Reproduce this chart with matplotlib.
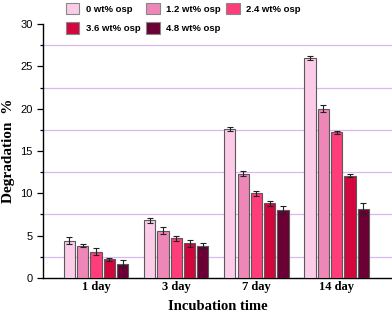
import matplotlib.pyplot as plt
import numpy as np
from matplotlib.patches import Patch

# data
days = ['1 day', '3 day', '7 day', '14 day']
series = ['0 wt% osp', '1.2 wt% osp', '2.4 wt% osp', '3.6 wt% osp', '4.8 wt% osp']
osp0 = [4.4, 6.8, 17.6, 26.0]
osp12 = [3.8, 5.6, 12.3, 20.0]
osp24 = [3.1, 4.7, 10.0, 17.2]
osp36 = [2.2, 4.1, 8.8, 12.1]
osp48 = [1.7, 3.8, 8.0, 8.2]
err0 = [0.4, 0.3, 0.2, 0.2]
err12 = [0.2, 0.4, 0.3, 0.4]
err24 = [0.4, 0.3, 0.3, 0.2]
err36 = [0.2, 0.4, 0.3, 0.2]
err48 = [0.4, 0.3, 0.5, 0.6]

colors = ['#fbcbe8', '#ee86b8', '#ff3d7b', '#d2073e', '#6a0033']
values = [osp0, osp12, osp24, osp36, osp48]
errors = [err0, err12, err24, err36, err48]

plt.rcParams['font.family'] = 'Liberation Sans'

fig = plt.figure(figsize=(3.92, 3.13), dpi=100)
ax = fig.add_axes([0.110, 0.112, 0.89, 0.811])

x = np.arange(len(days))
step = 0.166
width = 0.14
for i in range(len(series)):
    ax.bar(x + (i - 2) * step, values[i], width, color=colors[i],
           edgecolor='#5a5a5a', linewidth=0.8, zorder=3,
           yerr=errors[i], capsize=2.5,
           error_kw=dict(ecolor='#222222', elinewidth=0.8, capthick=0.8, zorder=4))

# grid lines between the major ticks
for g in [2.5, 7.5, 12.5, 17.5, 22.5, 27.5]:
    ax.axhline(g, color='#dcb8f0', linewidth=0.9, zorder=1)

ax.set_xlim(-0.66, 3.69)
ax.set_ylim(0, 30)
ax.set_yticks(np.arange(0, 31, 5))
ax.set_yticks(np.arange(2.5, 30, 5), minor=True)
ax.tick_params(axis='y', which='major', length=4, width=0.9, labelsize=8, direction='out')
ax.tick_params(axis='y', which='minor', length=2, width=0.9, direction='out')
ax.set_xticks(x)
ax.set_xticklabels(days, fontfamily='Liberation Serif', fontweight='bold', fontsize=9)
ax.tick_params(axis='x', length=0, pad=2.5)

for s in ['top', 'right']:
    ax.spines[s].set_visible(False)
ax.spines['left'].set_linewidth(1.0)
ax.spines['bottom'].set_linewidth(1.0)

ax.set_xlabel('Incubation time', fontfamily='Liberation Serif', fontweight='bold',
              fontsize=10.5, labelpad=5)
ax.set_ylabel('Degradation  %', fontfamily='Liberation Serif', fontweight='bold',
              fontsize=11, labelpad=4)

handles = [Patch(facecolor=colors[i], edgecolor='#888888', linewidth=0.8) for i in range(5)]
order = [0, 3, 1, 4, 2]
fig.legend([handles[i] for i in order], [series[i] for i in order],
           loc='upper left', bbox_to_anchor=(0.152, 1.012), ncol=3, frameon=False,
           handlelength=1.4, handleheight=1.5, handletextpad=0.7, columnspacing=0.6,
           labelspacing=0.85, borderpad=0.2,
           prop=dict(family='Liberation Sans', weight='bold', size=6.8))

fig.savefig('out.png', dpi=100)
